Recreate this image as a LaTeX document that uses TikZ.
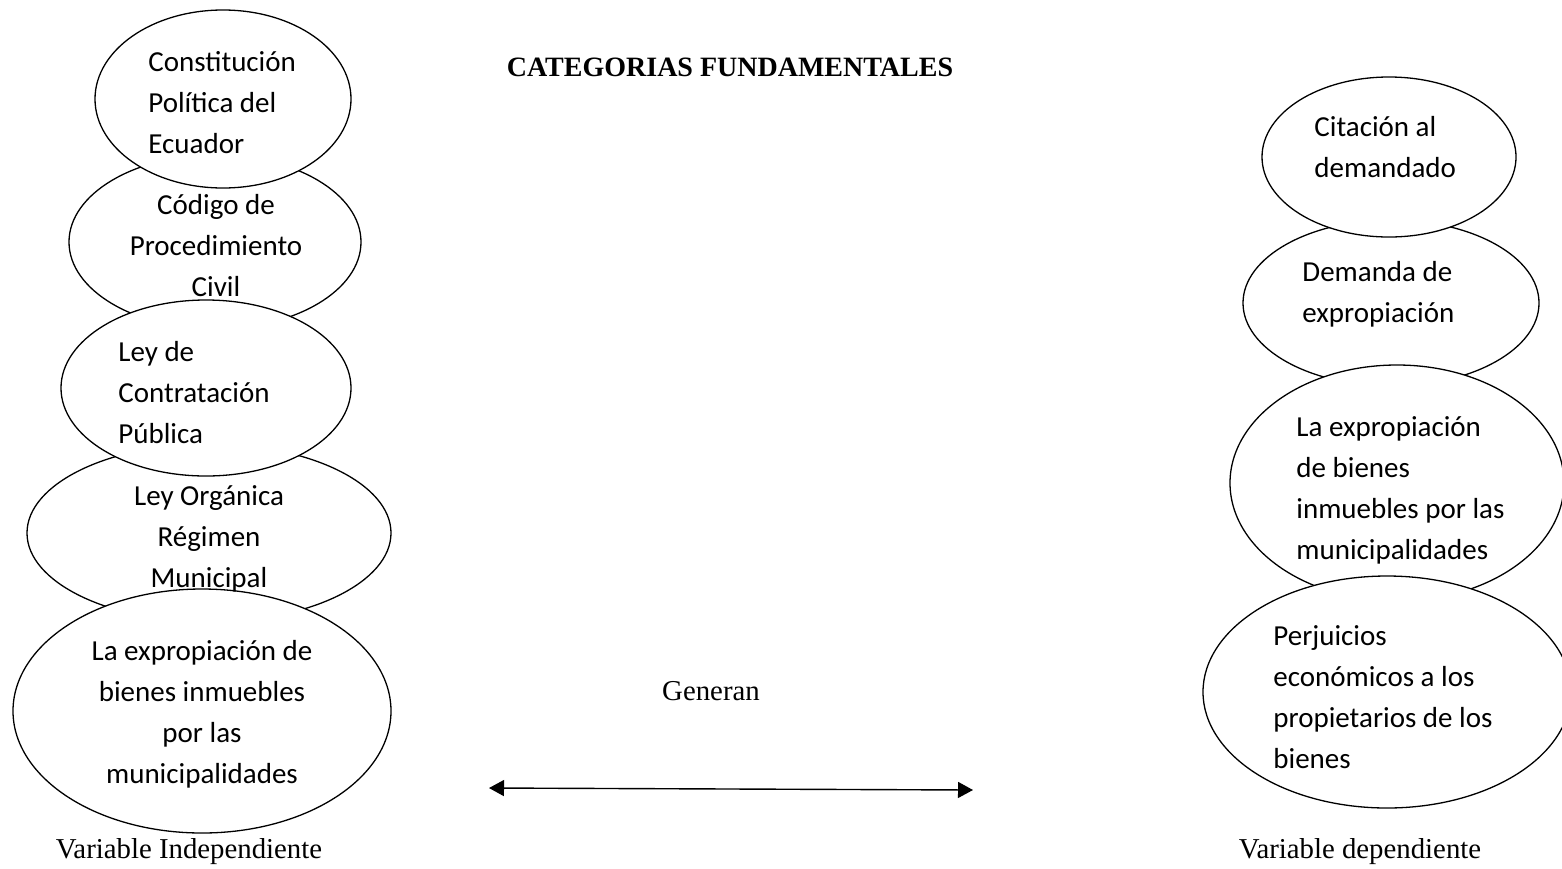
\documentclass[tikz,border=0pt]{standalone}
\usepackage{fontspec}
\setmainfont{Liberation Serif}
\newfontfamily\calibri{Carlito}
\usetikzlibrary{shapes.geometric,arrows.meta}
\begin{document}
\begin{tikzpicture}
[x=0.5pt,y=-0.5pt,
  ovalDecorate/.style={shape=ellipse,draw,line width=0.65pt,fill=white,inner sep=0pt,outer sep=0pt},
  labelDecorate/.style={font=\calibri\fontsize{14.5}{20.5}\selectfont,inner sep=0pt},
  textDecorate/.style={font=\fontsize{14.4}{17}\selectfont,inner sep=0pt,anchor=base},
  arrowDecorate/.style={{Triangle[length=7.5pt,width=8pt]}-{Triangle[length=7.5pt,width=8pt]},line width=0.7pt}]
\useasboundingbox (0,0) rectangle (1562,868);
\clip (0,0) rectangle (1562,868);
%% ellipses, the hidden ones first
\foreach \nodename/\x/\y/\rx/\ry in {
  codigo/215/242/146/87, organica/209/533/182/89, constitucion/223/99/128/89,
  contratacion/206/388/145/88, expropiacion/202/711/189/122,
  demanda/1391/303/148/83, citacion/1389/157/127/80,
  expropiacionB/1397/483/167/118, perjuicios/1387/692/184/116}
{
  \node (\nodename) at (\x,\y) [ovalDecorate,minimum width=\rx pt,minimum height=\ry pt] {};
}
%% texts inside the ellipses (placed by the baseline of their last line)
\node (tConstitucion) at (148,153) [labelDecorate,anchor=base west,align=left] {Constitución\\Política del\\Ecuador};
\node (tCodigo) at (216,296) [labelDecorate,anchor=base,align=center] {Código de\\Procedimiento\\Civil};
\node (tContratacion) at (118,443) [labelDecorate,anchor=base west,align=left] {Ley de\\Contratación\\Pública};
\node (tOrganica) at (209,587) [labelDecorate,anchor=base,align=center] {Ley Orgánica\\Régimen\\Municipal};
\node (tExpropiacion) at (202,783) [labelDecorate,anchor=base,align=center] {La expropiación de\\bienes inmuebles\\por las\\municipalidades};
\node (tCitacion) at (1314,177) [labelDecorate,anchor=base west,align=left] {Citación al\\demandado};
\node (tDemanda) at (1302,322) [labelDecorate,anchor=base west,align=left] {Demanda de\\expropiación};
\node (tExpropiacionB) at (1296,559) [labelDecorate,anchor=base west,align=left] {La expropiación\\de bienes\\inmuebles por las\\municipalidades};
\node (tPerjuicios) at (1273,768) [labelDecorate,anchor=base west,align=left] {Perjuicios\\económicos a los\\propietarios de los\\bienes};
%% headings and captions
\node (titulo) at (730,76) [textDecorate,font=\bfseries\fontsize{14}{17}\selectfont] {CATEGORIAS FUNDAMENTALES};
\node (generan) at (711,700) [textDecorate] {Generan};
\node (varIndep) at (189,858) [textDecorate] {Variable Independiente};
\node (varDep) at (1360,858) [textDecorate] {Variable dependiente};
%% double arrow
\coordinate (izq) at (489,788);
\coordinate (der) at (973,790);
\draw[arrowDecorate] (izq) -- (der);
\end{tikzpicture}
\end{document}
